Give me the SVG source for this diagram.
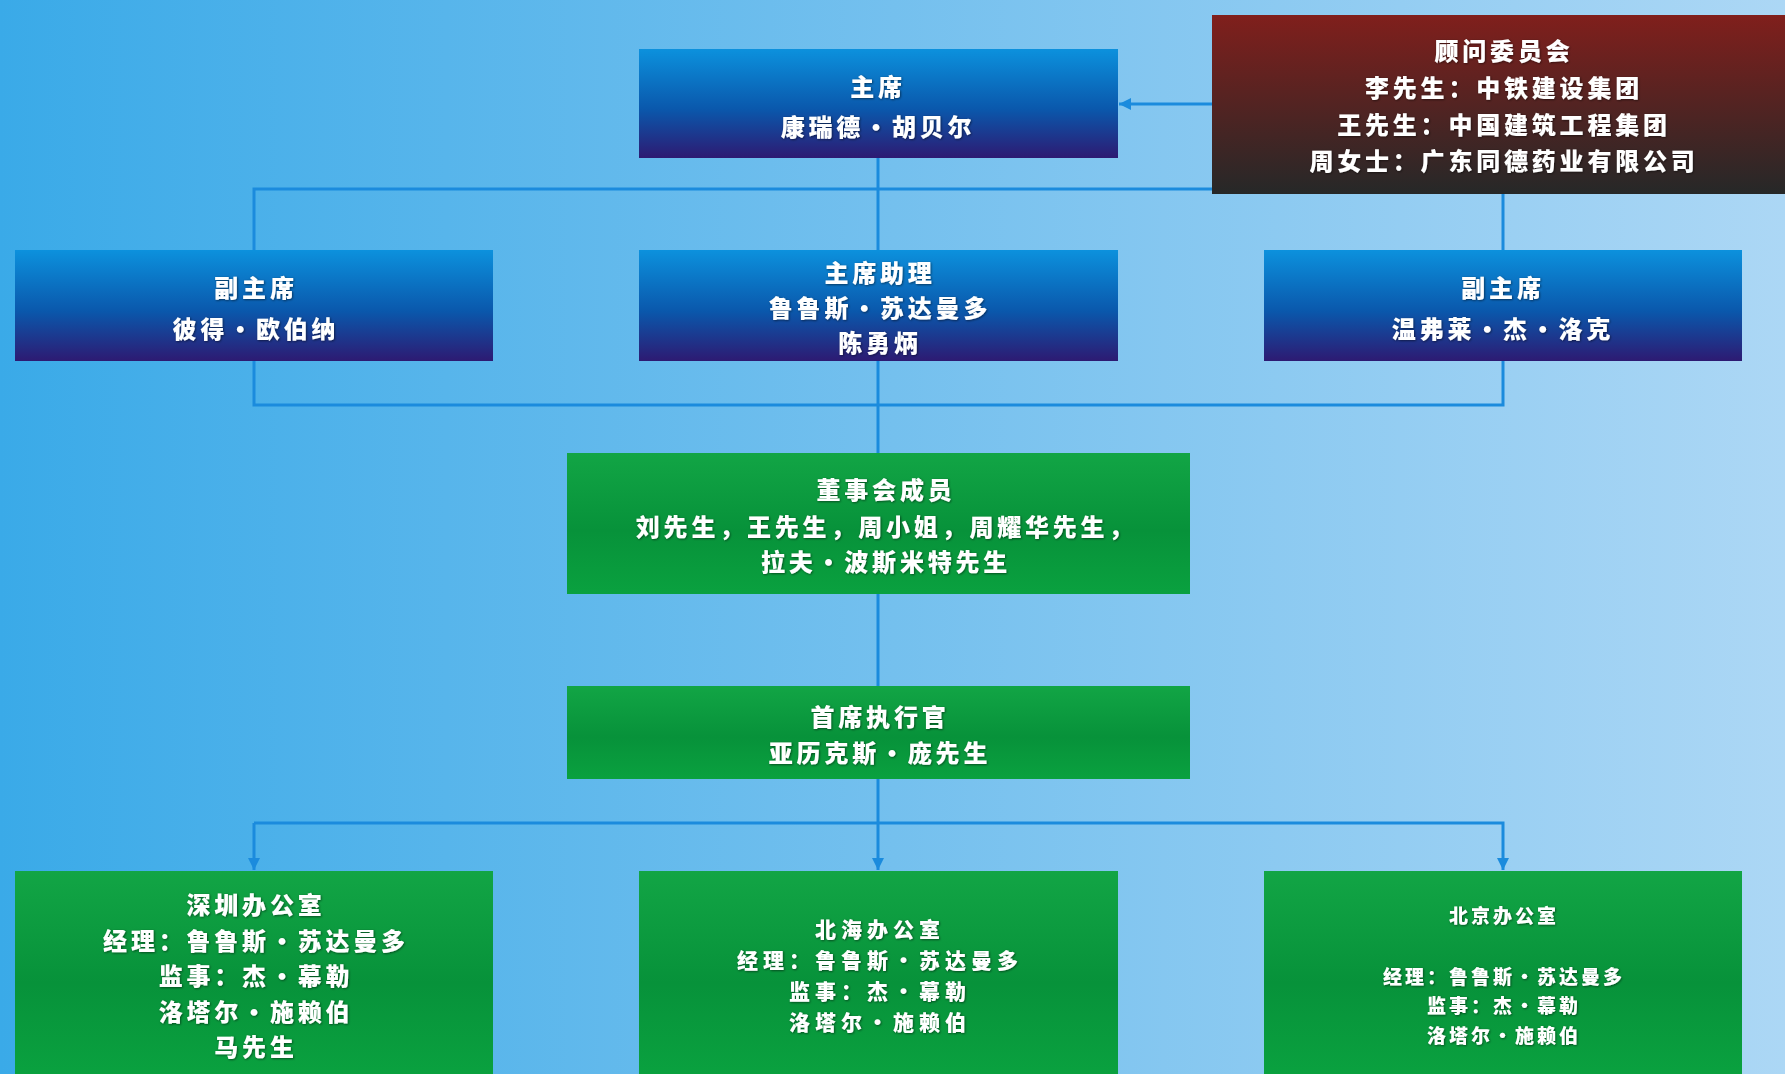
<svg xmlns="http://www.w3.org/2000/svg" width="1785" height="1074" viewBox="0 0 1785 1074">
<defs>
<linearGradient id="bg" x1="0" y1="0" x2="1" y2="0">
<stop offset="0" stop-color="#3AAAE8"/>
<stop offset="0.5" stop-color="#74C0EE"/>
<stop offset="1" stop-color="#ACD7F5"/>
</linearGradient>
<linearGradient id="gBlue" x1="0" y1="0" x2="0" y2="1">
<stop offset="0" stop-color="#0C91DD"/>
<stop offset="0.55" stop-color="#0A58AC"/>
<stop offset="1" stop-color="#2D1A72"/>
</linearGradient>
<linearGradient id="gRed" x1="0" y1="0" x2="0" y2="1">
<stop offset="0" stop-color="#801F1C"/>
<stop offset="1" stop-color="#262828"/>
</linearGradient>
<linearGradient id="gGreen" x1="0" y1="0" x2="0" y2="1">
<stop offset="0" stop-color="#12A545"/>
<stop offset="0.55" stop-color="#07923A"/>
<stop offset="1" stop-color="#0AA13F"/>
</linearGradient>
<filter id="ts" x="-5%" y="-20%" width="110%" height="140%">
<feDropShadow dx="0.8" dy="0.8" stdDeviation="0.9" flood-color="#000" flood-opacity="0.55"/>
</filter>
<marker id="arr" viewBox="0 0 10 10" refX="10" refY="5" markerWidth="12" markerHeight="12" markerUnits="userSpaceOnUse" orient="auto">
<path d="M0,0 L10,5 L0,10 Z" fill="#1B8BDD"/>
</marker>
</defs>
<style>
.conn{stroke:#1B8BDD;stroke-width:3;fill:none}
text{font-family:"Noto Sans CJK SC","Noto Sans",sans-serif;font-weight:900;fill:#fff;text-anchor:middle;dominant-baseline:central;font-size:24px;letter-spacing:3.8px;filter:url(#ts)}
.md{font-size:21px;letter-spacing:5px}
.sm{font-size:19px;letter-spacing:3px}
</style>
<rect x="0" y="0" width="1785" height="1074" fill="url(#bg)"/>
<g id="connectors">
<line class="conn" x1="1212" y1="104" x2="1119" y2="104" marker-end="url(#arr)"/>
<line class="conn" x1="878" y1="158" x2="878" y2="453"/>
<polyline class="conn" points="254,250 254,189 1212,189"/>
<line class="conn" x1="1503" y1="194" x2="1503" y2="250"/>
<polyline class="conn" points="254,361 254,405 1503,405 1503,361"/>
<line class="conn" x1="878" y1="594" x2="878" y2="686"/>
<line class="conn" x1="878" y1="779" x2="878" y2="870" marker-end="url(#arr)"/>
<polyline class="conn" points="254,823 1503,823 1503,870" marker-end="url(#arr)"/>
<line class="conn" x1="254" y1="823" x2="254" y2="870" marker-end="url(#arr)"/>
</g>
<g id="chairman">
<rect x="639" y="49" width="479" height="109" fill="url(#gBlue)"/>
<text x="878" y="85">主席</text>
<text x="878" y="125">康瑞德·胡贝尔</text>
</g>
<g id="advisory">
<rect x="1212" y="15" width="573" height="179" fill="url(#gRed)"/>
<text x="1504" y="49">顾问委员会</text>
<text x="1504" y="86">李先生：中铁建设集团</text>
<text x="1504" y="123">王先生：中国建筑工程集团</text>
<text x="1504" y="159">周女士：广东同德药业有限公司</text>
</g>
<g id="vice-left">
<rect x="15" y="250" width="478" height="111" fill="url(#gBlue)"/>
<text x="256" y="286">副主席</text>
<text x="256" y="327">彼得·欧伯纳</text>
</g>
<g id="assistant">
<rect x="639" y="250" width="479" height="111" fill="url(#gBlue)"/>
<text x="880" y="271">主席助理</text>
<text x="880" y="306">鲁鲁斯·苏达曼多</text>
<text x="880" y="341">陈勇炳</text>
</g>
<g id="vice-right">
<rect x="1264" y="250" width="478" height="111" fill="url(#gBlue)"/>
<text x="1503" y="286">副主席</text>
<text x="1503" y="327">温弗莱·杰·洛克</text>
</g>
<g id="board">
<rect x="567" y="453" width="623" height="141" fill="url(#gGreen)"/>
<text x="886" y="488">董事会成员</text>
<text x="886" y="525">刘先生，王先生，周小姐，周耀华先生，</text>
<text x="886" y="560">拉夫·波斯米特先生</text>
</g>
<g id="ceo">
<rect x="567" y="686" width="623" height="93" fill="url(#gGreen)"/>
<text x="880" y="715">首席执行官</text>
<text x="880" y="751">亚历克斯·庞先生</text>
</g>
<g id="shenzhen">
<rect x="15" y="871" width="478" height="203" fill="url(#gGreen)"/>
<text x="256" y="903">深圳办公室</text>
<text x="256" y="939">经理：鲁鲁斯·苏达曼多</text>
<text x="256" y="974">监事：杰·幕勒</text>
<text x="256" y="1010">洛塔尔·施赖伯</text>
<text x="256" y="1045">马先生</text>
</g>
<g id="beihai">
<rect x="639" y="871" width="479" height="203" fill="url(#gGreen)"/>
<text class="md" x="880" y="928">北海办公室</text>
<text class="md" x="880" y="959">经理：鲁鲁斯·苏达曼多</text>
<text class="md" x="880" y="990">监事：杰·幕勒</text>
<text class="md" x="880" y="1021">洛塔尔·施赖伯</text>
</g>
<g id="beijing">
<rect x="1264" y="871" width="478" height="203" fill="url(#gGreen)"/>
<text class="sm" x="1504" y="914">北京办公室</text>
<text class="sm" x="1504" y="975">经理：鲁鲁斯·苏达曼多</text>
<text class="sm" x="1504" y="1004">监事：杰·幕勒</text>
<text class="sm" x="1504" y="1034">洛塔尔·施赖伯</text>
</g>
</svg>
